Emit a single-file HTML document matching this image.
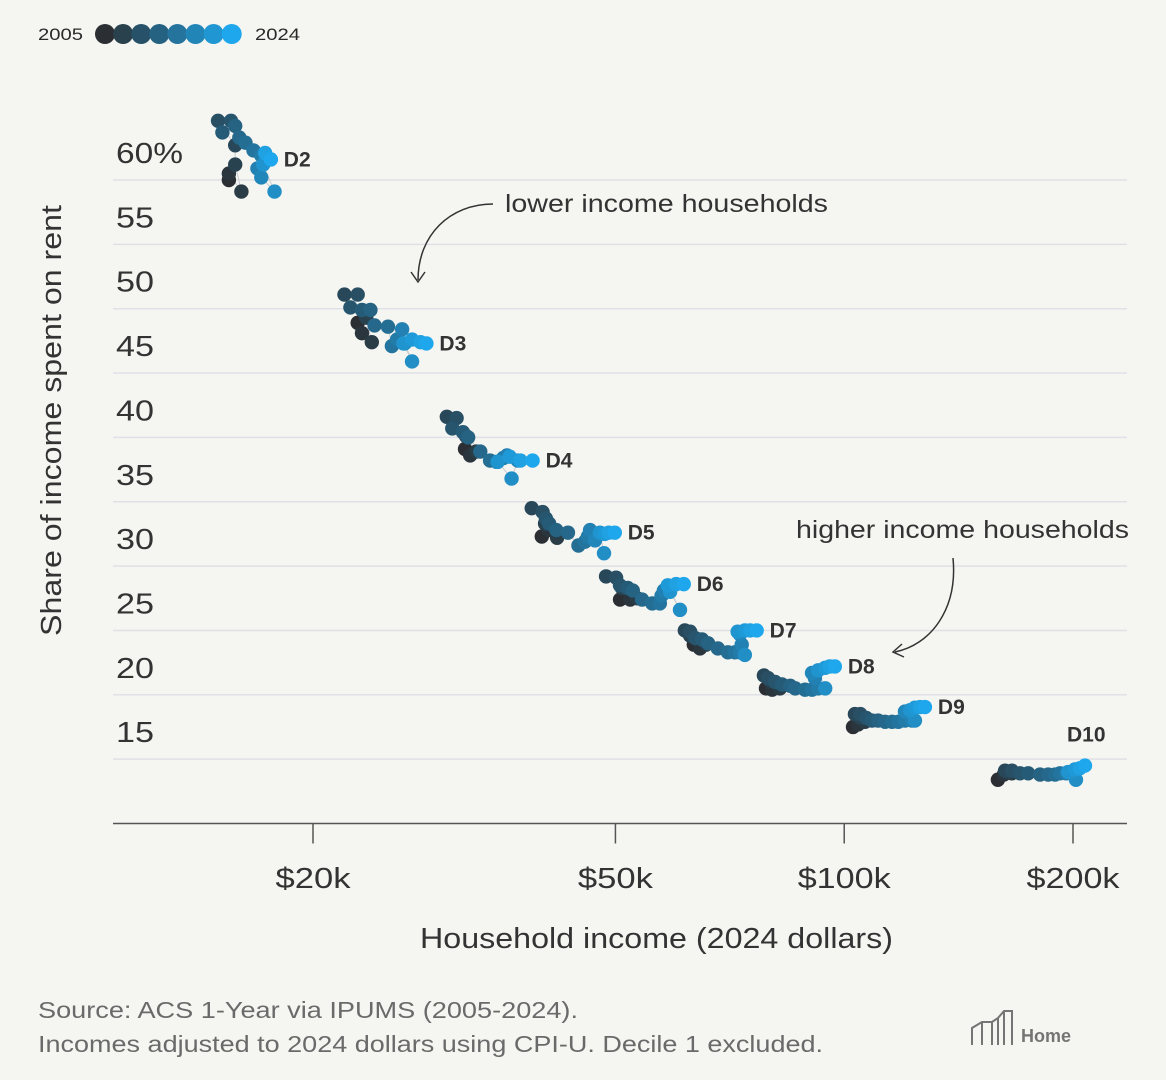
<!DOCTYPE html>
<html><head><meta charset="utf-8"><style>
html,body{margin:0;padding:0;background:#f5f5f2;}
svg{display:block;font-family:"Liberation Sans",sans-serif;}
</style></head><body>
<svg id="chart" width="1166" height="1080" viewBox="0 0 1166 1080" xmlns="http://www.w3.org/2000/svg">
<rect width="1166" height="1080" fill="#f5f5f2"/>
<g id="legend">
<text x="38" y="40" font-size="17" fill="#2a2a2a" textLength="45" lengthAdjust="spacingAndGlyphs">2005</text>
<text x="255" y="40" font-size="17" fill="#2a2a2a" textLength="45" lengthAdjust="spacingAndGlyphs">2024</text>
</g>
<g id="grid"></g>
<g id="axes"></g>
<g id="marks"></g>
<g>
<text x="505" y="212" font-size="25" fill="#333" textLength="323" lengthAdjust="spacingAndGlyphs">lower income households</text>
<path d="M493,204 C450,204 418,235 418,280" fill="none" stroke="#333" stroke-width="1.5"/>
<path d="M411,272 L418,282 L425,272" fill="none" stroke="#333" stroke-width="1.5"/>
<text x="796" y="538" font-size="25" fill="#333" textLength="333" lengthAdjust="spacingAndGlyphs">higher income households</text>
<path d="M953,558 C958,610 930,645 895,652" fill="none" stroke="#333" stroke-width="1.5"/>
<path d="M902,644 L893,652 L904,657" fill="none" stroke="#333" stroke-width="1.5"/>
</g>
<text x="420" y="948" font-size="29" fill="#333" textLength="473" lengthAdjust="spacingAndGlyphs">Household income (2024 dollars)</text>
<text transform="translate(61,636) rotate(-90)" font-size="29" fill="#333" textLength="431" lengthAdjust="spacingAndGlyphs">Share of income spent on rent</text>
<text x="38" y="1018" font-size="23" fill="#6a6a6a" textLength="540" lengthAdjust="spacingAndGlyphs">Source: ACS 1-Year via IPUMS (2005-2024).</text>
<text x="38" y="1052" font-size="23" fill="#6a6a6a" textLength="785" lengthAdjust="spacingAndGlyphs">Incomes adjusted to 2024 dollars using CPI-U. Decile 1 excluded.</text>
<g stroke="#555" stroke-width="2" fill="none" opacity="0.8">
<path d="M972,1045 V1028 L982,1022 H992 L998,1018 V1045 M982,1022 V1045 M992,1022 V1045 M998,1018 L1004,1011 H1012 V1045 M1004,1011 V1045"/>
<text x="1021" y="1042" font-size="18" font-weight="bold" fill="#555" stroke="none">Home</text>
</g>
</svg>
<script>
const years = [2005,2006,2007,2008,2009,2010,2011,2012,2013,2014,2015,2016,2017,2018,2019,2020,2021,2022,2023,2024];
const deciles = ["D2","D3","D4","D5","D6","D7","D8","D9","D10"];
const d2Income = [15.5,15.5,16.1,15.8,15.8,15.0,15.6,15.2,15.8,16.0,16.3,16.7,17.1,16.9,17.1,17.8,17.2,17.6,17.3,17.6];
const d2Share = [60.0,60.5,59.1,61.2,62.7,64.6,64.6,63.7,64.2,63.3,62.9,62.3,61.9,60.9,60.2,59.1,61.2,61.6,62.1,61.6];
const d3Income = [22.9,23.2,23.9,23.5,22.0,22.9,22.4,23.2,23.8,24.1,25.1,25.4,25.8,26.2,26.4,27.0,26.3,27.0,27.7,28.2];
const d3Share = [48.9,48.1,47.4,49.3,51.1,51.1,50.1,49.9,49.9,48.7,48.6,47.1,47.6,48.4,47.3,45.9,47.3,47.6,47.4,47.3];
const d4Income = [31.7,32.2,32.8,31.8,30.0,30.9,30.5,31.5,32.0,33.2,34.2,34.9,35.6,36.0,37.2,36.5,35.0,36.3,37.5,38.9];
const d4Share = [39.1,38.6,38.9,40.1,41.6,41.5,40.7,40.4,40.0,38.9,38.2,38.1,38.4,38.6,38.2,36.8,38.1,38.5,38.2,38.2];
const d5Income = [40.0,40.8,41.9,40.4,38.8,40.1,40.5,40.9,41.8,43.3,44.7,45.6,46.0,46.3,47.0,48.3,47.7,48.4,49.0,49.9];
const d5Share = [32.3,32.8,32.2,33.3,34.5,34.2,33.7,33.3,32.8,32.6,31.6,31.9,32.3,32.8,32.0,31.0,32.6,32.5,32.6,32.6];
const d6Income = [50.7,52.3,53.4,51.0,48.6,50.1,50.7,51.9,52.7,54.2,55.9,57.2,57.5,57.9,58.6,60.8,59.0,58.6,60.1,61.5];
const d6Share = [27.4,27.4,27.5,28.3,29.2,29.1,28.5,28.3,28.1,27.4,27.1,27.1,27.7,28.1,28.5,26.6,28.0,28.5,28.6,28.6];
const d7Income = [63.4,64.6,65.8,62.7,61.7,62.7,63.7,65.0,66.2,68.2,70.3,71.8,72.9,73.3,72.9,74.0,72.4,74.0,75.2,76.7];
const d7Share = [23.9,23.6,23.9,24.6,25.0,24.9,24.4,24.3,24.0,23.6,23.3,23.3,23.3,23.9,24.7,23.1,24.9,25.0,25.0,25.0];
const d8Income = [78.9,80.4,82.3,79.8,78.4,79.4,81.1,82.8,84.9,86.2,88.8,90.7,92.4,91.5,90.7,94.4,92.4,94.4,95.7,97.2];
const d8Share = [20.5,20.4,20.5,21.1,21.5,21.3,21.0,20.8,20.7,20.5,20.4,20.4,20.5,21.3,21.7,20.5,21.9,22.1,22.2,22.2];
const d9Income = [102.7,104.3,106.5,105.0,103.3,105.0,106.9,108.8,110.8,113.2,115.6,117.8,120.2,122.8,120.2,123.9,122.1,123.9,125.8,127.7];
const d9Share = [17.5,17.7,17.9,18.2,18.5,18.5,18.2,18.0,18.0,17.9,17.9,17.9,18.0,18.0,18.7,18.0,18.8,19.0,19.05,19.05];
const d10Income = [159.3,162.2,166.2,164.3,162.8,166.2,170.3,174.6,181.0,185.5,189.4,192.3,195.9,199.4,201.2,201.8,197.0,201.2,204.3,207.4];
const d10Share = [13.4,13.8,13.9,14.0,14.1,14.1,13.9,13.9,13.8,13.8,13.8,13.9,13.9,14.0,14.2,13.4,14.0,14.2,14.3,14.5];
const yTicks = [60,55,50,45,40,35,30,25,20,15];
const yTickLabels = ["60%","55","50","45","40","35","30","25","20","15"];
const xTicks = [20,50,100,200];
const xTickLabels = ["$20k","$50k","$100k","$200k"];

const NS = "http://www.w3.org/2000/svg";
const incomes = [d2Income,d3Income,d4Income,d5Income,d6Income,d7Income,d8Income,d9Income,d10Income];
const shares = [d2Share,d3Share,d4Share,d5Share,d6Share,d7Share,d8Share,d9Share,d10Share];
const X0 = 313, PXDEC = 760;
function xs(v){ return X0 + PXDEC*Math.log10(v/20); }
function ys(v){ return 180 + (60 - v)*12.87; }
function mk(tag, attrs, parent){
  const e = document.createElementNS(NS, tag);
  for (const k in attrs) e.setAttribute(k, attrs[k]);
  parent.appendChild(e); return e;
}
function col(t){
  const a=[0x2b,0x2f,0x33], b=[0x1e,0xa7,0xec];
  return "rgb("+a.map((c,i)=>Math.round(c+(b[i]-c)*t)).join(",")+")";
}
const grid = document.getElementById("grid");
const axes = document.getElementById("axes");
const marks = document.getElementById("marks");
const legend = document.getElementById("legend");

for (let i=0;i<8;i++){
  const c = mk("circle",{cx:105+i*18.1,cy:34,r:10,fill:col(i/7)},legend);
  
  
}

yTicks.forEach((v,i)=>{
  const y = ys(v);
  const l = mk("line",{x1:113,x2:1127,y1:y,y2:y,stroke:"#dfe1e6","stroke-width":1.5},grid);
  
  
  const lab = yTickLabels[i];
  const t = mk("text",{x:116,y:y-17,"font-size":29,fill:"#333",textLength:(lab.length>2?67:38),lengthAdjust:"spacingAndGlyphs"},axes);
  t.textContent = lab;
  
  
});
const ax = mk("line",{x1:113,x2:1127,y1:ys(10),y2:ys(10),stroke:"#555","stroke-width":1.5},axes);


xTicks.forEach((v,i)=>{
  const x = xs(v);
  const tk = mk("line",{x1:x,x2:x,y1:ys(10),y2:ys(10)+20,stroke:"#555","stroke-width":1.5},axes);
  
  
  const lab = xTickLabels[i];
  const w = lab.length>4 ? 93 : 75;
  const t = mk("text",{x:x-w/2,y:888,"font-size":29,fill:"#333",textLength:w,lengthAdjust:"spacingAndGlyphs"},axes);
  t.textContent = lab;
  
  
});

deciles.forEach((d,k)=>{
  const g = mk("g",{},marks);
  
  
  const inc = incomes[k], sh = shares[k];
  const pts = inc.map((v,i)=>xs(v).toFixed(1)+","+ys(sh[i]).toFixed(1)).join(" ");
  const pl = mk("polyline",{points:pts,fill:"none",stroke:"#c9ccd0","stroke-width":1},g);
  
  
  inc.forEach((v,i)=>{
    const c = mk("circle",{cx:xs(v),cy:ys(sh[i]),r:7.2,fill:col(i/(years.length-1))},g);
    
    
  });
  let lx = xs(inc[inc.length-1]) + 13, ly = ys(sh[sh.length-1]) + 7;
  if (d === "D10"){ lx = xs(inc[inc.length-1]) - 18; ly = ys(sh[sh.length-1]) - 24; }
  const t = mk("text",{x:lx,y:ly,"font-size":21,"font-weight":"bold",fill:"#333"},g);
  t.textContent = d;
  
  
});
</script>
</body></html>
